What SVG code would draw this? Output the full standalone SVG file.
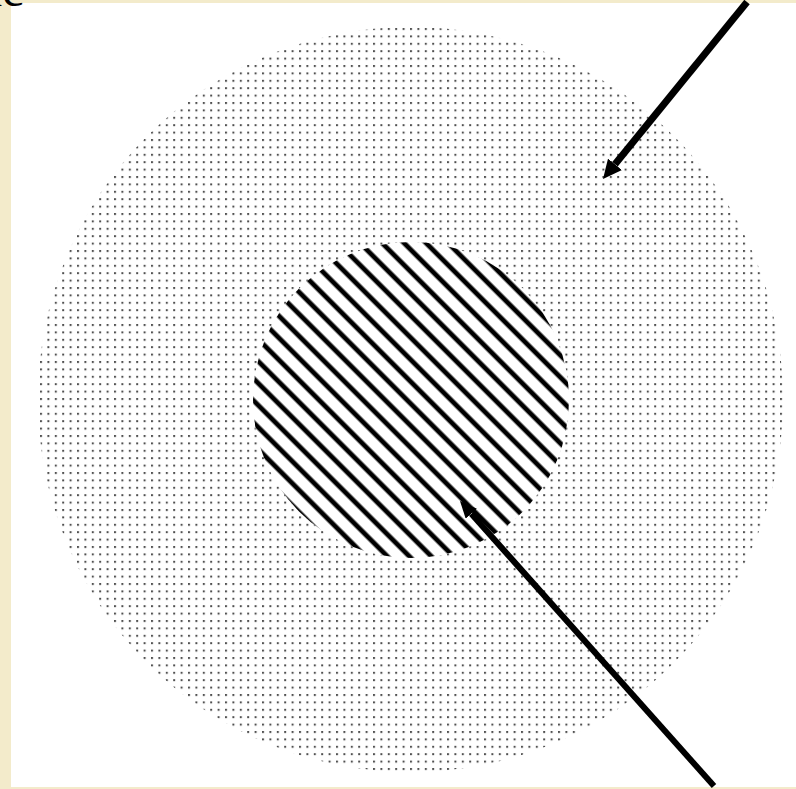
<svg xmlns="http://www.w3.org/2000/svg" width="796" height="789" viewBox="0 0 796 789">
  <style>
    .frame { fill: #ffffff; }
    .page { fill: #F3EBCB; }
    .conn { stroke: #000000; fill: none; stroke-linecap: butt; }
    .head { fill: #000000; }
    .label { font-family: "Liberation Serif", "Times New Roman", serif; font-size: 48px; fill: #000000; }
  </style>
  <defs>
    <pattern id="dots" patternUnits="userSpaceOnUse" x="40" y="28" width="7.4" height="7.4">
      <rect x="0" y="0" width="2" height="2" fill="#505050"/>
    </pattern>
    <pattern id="hatch" patternUnits="userSpaceOnUse" x="0" y="0" width="15.56" height="15.56" patternTransform="rotate(45)">
      <rect x="0" y="8.2" width="15.56" height="4.8" fill="#000000"/>
    </pattern>
    <marker id="arrow-big" markerUnits="userSpaceOnUse" viewBox="0 0 19 18" markerWidth="19" markerHeight="18" refX="0" refY="9" orient="auto">
      <path class="head" d="M0,0 L19,9 L0,18 z"/>
    </marker>
    <marker id="arrow" markerUnits="userSpaceOnUse" viewBox="0 0 17 15" markerWidth="17" markerHeight="15" refX="0" refY="7.5" orient="auto">
      <path class="head" d="M0,0 L17,7.5 L0,15 z"/>
    </marker>
  </defs>

  <rect class="page" x="0" y="0" width="796" height="789"/>
  <rect class="frame" x="11" y="3" width="785" height="784"/>

  <text class="label" x="-11" y="6">ic</text>

  <g id="outer-region">
    <circle cx="410.5" cy="399.5" r="372.5" fill="url(#dots)"/>
  </g>

  <g id="inner-region">
    <circle cx="411" cy="400" r="158" fill="#ffffff"/>
    <circle cx="411" cy="400" r="158" fill="url(#hatch)"/>
  </g>

  <g id="connectors">
    <line class="conn" x1="747" y1="2" x2="615" y2="164.3" stroke-width="7" marker-end="url(#arrow-big)"/>
    <line class="conn" x1="714" y1="786" x2="471.3" y2="513.7" stroke-width="6" marker-end="url(#arrow)"/>
  </g>
</svg>
